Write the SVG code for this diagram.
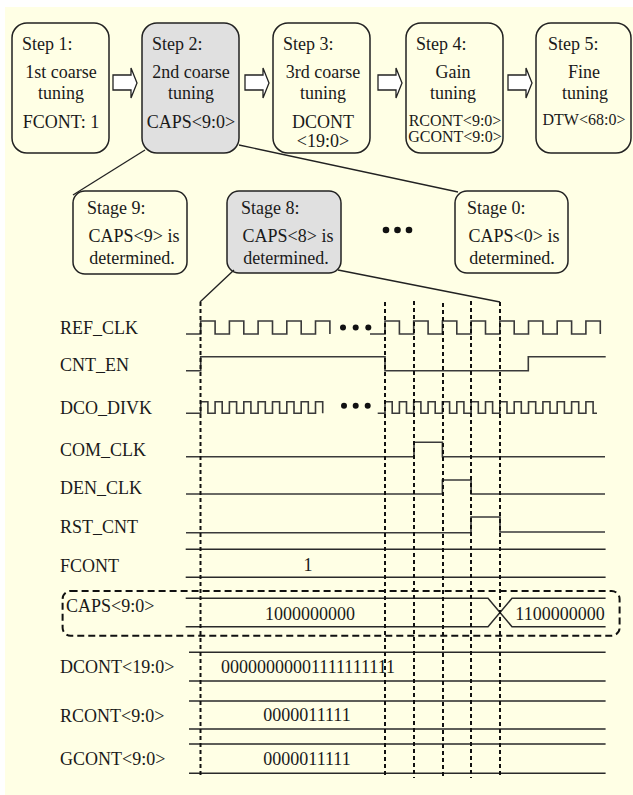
<svg xmlns="http://www.w3.org/2000/svg" width="633" height="795" viewBox="0 0 633 795">
<style>
text{font-family:"Liberation Serif","Times New Roman",serif;font-size:18px;fill:#1a1a1a}
.sm{font-size:16px}
.c{text-anchor:middle}
.box{fill:#FFFFE5;stroke:#222;stroke-width:1.5}
.gbox{fill:#E0E0E0;stroke:#222;stroke-width:1.5}
.arr{fill:#fff;stroke:#222;stroke-width:1.3;stroke-linejoin:miter}
.ln{fill:none;stroke:#222;stroke-width:1.3}
.wv{fill:none;stroke:#3a3a3a;stroke-width:1.6}
.bus{fill:none;stroke:#2a2a2a;stroke-width:1.5}
.vd{fill:none;stroke:#111;stroke-width:2;stroke-dasharray:4 3}
.dot{fill:#111}
</style>
<rect x="5" y="7" width="628" height="788" fill="#FFFFE5"/>

<g id="step1"><rect class="box" x="12" y="23" width="97" height="130" rx="15"/>
<text x="22" y="50">Step 1:</text><text class="c" x="61" y="78">1st coarse</text><text class="c" x="61" y="99">tuning</text><text class="c" x="61" y="128">FCONT: 1</text></g>
<g id="step2"><rect class="gbox" x="142" y="23" width="97" height="130" rx="15"/>
<text x="152" y="50">Step 2:</text><text class="c" x="191" y="78">2nd coarse</text><text class="c" x="191" y="99">tuning</text><text class="c" x="191" y="128">CAPS&lt;9:0&gt;</text></g>
<g id="step3"><rect class="box" x="273" y="23" width="97" height="130" rx="15"/>
<text x="283" y="50">Step 3:</text><text class="c" x="323" y="78">3rd coarse</text><text class="c" x="323" y="99">tuning</text><text class="c" x="323" y="128">DCONT</text><text class="c" x="323" y="147">&lt;19:0&gt;</text></g>
<g id="step4"><rect class="box" x="406" y="23" width="97" height="130" rx="15"/>
<text x="416" y="50">Step 4:</text><text class="c" x="453" y="78">Gain</text><text class="c" x="453" y="99">tuning</text><text class="c sm" x="455" y="125.5">RCONT&lt;9:0&gt;</text><text class="c sm" x="455" y="142">GCONT&lt;9:0&gt;</text></g>
<g id="step5"><rect class="box" x="536" y="23" width="95" height="130" rx="15"/>
<text x="548" y="50">Step 5:</text><text class="c" x="584" y="78">Fine</text><text class="c" x="585" y="99">tuning</text><text class="c sm" x="584" y="125">DTW&lt;68:0&gt;</text></g>

<g id="arrows">
<path class="arr" d="M113,75 H131 V68 L137,83 L131,98 V90 H113 Z"/>
<path class="arr" d="M245,75 H263 V68 L269,83 L263,98 V90 H245 Z"/>
<path class="arr" d="M378,75 H396 V68 L402,83 L396,98 V90 H378 Z"/>
<path class="arr" d="M508,75 H526 V68 L532,83 L526,98 V90 H508 Z"/>
</g>

<g id="stage9"><rect class="box" x="73" y="191" width="114" height="83" rx="12"/>
<text x="87" y="214">Stage 9:</text><text class="c" x="134" y="242">CAPS&lt;9&gt; is</text><text class="c" x="132" y="264">determined.</text></g>
<g id="stage8"><rect class="gbox" x="227" y="191" width="114" height="82" rx="12"/>
<text x="241" y="214">Stage 8:</text><text class="c" x="288" y="242">CAPS&lt;8&gt; is</text><text class="c" x="286" y="264">determined.</text></g>
<g id="stage0"><rect class="box" x="455" y="191" width="113" height="82" rx="12"/>
<text x="467" y="214">Stage 0:</text><text class="c" x="514" y="242">CAPS&lt;0&gt; is</text><text class="c" x="512" y="264">determined.</text></g>
<g id="stage-dots"><circle class="dot" cx="386" cy="230" r="3.3"/><circle class="dot" cx="397.5" cy="230" r="3.3"/><circle class="dot" cx="409" cy="230" r="3.3"/></g>

<g id="connectors">
<line class="ln" x1="145" y1="150" x2="73" y2="195"/>
<line class="ln" x1="239" y1="145" x2="458" y2="192"/>
<line class="ln" x1="234" y1="270" x2="200" y2="302"/>
<line class="ln" x1="338" y1="270" x2="500" y2="302"/>
</g>

<g id="labels">
<text x="60" y="334">REF_CLK</text>
<text x="60" y="371">CNT_EN</text>
<text x="60" y="414">DCO_DIVK</text>
<text x="60" y="456">COM_CLK</text>
<text x="60" y="494">DEN_CLK</text>
<text x="60" y="533">RST_CNT</text>
<text x="60" y="572">FCONT</text>
<text x="66" y="612">CAPS&lt;9:0&gt;</text>
<text x="60" y="673">DCONT&lt;19:0&gt;</text>
<text x="60" y="722">RCONT&lt;9:0&gt;</text>
<text x="60" y="765">GCONT&lt;9:0&gt;</text>
</g>

<g id="waves">
<path class="wv" d="M186,334 H200.7 V321 H215.1 V334 H229.4 V321 H243.8 V334 H258.1 V321 H272.5 V334 H286.8 V321 H301.2 V334 H315.5 V321 H329.9 V334"/>
<path class="wv" d="M370,334 H385 V321 H399.4 V334 H413.7 V321 H428.1 V334 H442.4 V321 H456.8 V334 H471.1 V321 H485.5 V334 H499.8 V321 H514.2 V334 H528.5 V321 H542.9 V334 H557.2 V321 H571.6 V334 H585.9 V321 H600.3 V334"/>
<circle class="dot" cx="343" cy="327.5" r="3"/><circle class="dot" cx="355.7" cy="327.5" r="3"/><circle class="dot" cx="368.3" cy="327.5" r="3"/>
<path class="wv" d="M186,370.7 H200.7 V356.7 H385 V370.7 H528.3 V356.7 H605.7"/>
<path class="wv" d="M186,413.3 H200.7 V401.7 H207.9 V413.3 H215.1 V401.7 H222.2 V413.3 H229.4 V401.7 H236.6 V413.3 H243.8 V401.7 H250.9 V413.3 H258.1 V401.7 H265.3 V413.3 H272.5 V401.7 H279.6 V413.3 H286.8 V401.7 H294 V413.3 H301.2 V401.7 H308.3 V413.3 H315.5 V401.7 H322.7 V413.3"/>
<path class="wv" d="M377.7,413.3 H385 V401.7 H392.2 V413.3 H399.4 V401.7 H406.5 V413.3 H413.7 V401.7 H420.9 V413.3 H428.1 V401.7 H435.2 V413.3 H442.4 V401.7 H449.6 V413.3 H456.8 V401.7 H463.9 V413.3 H471.1 V401.7 H478.3 V413.3 H485.5 V401.7 H492.6 V413.3 H499.8 V401.7 H507 V413.3 H514.2 V401.7 H521.3 V413.3 H528.5 V401.7 H535.7 V413.3 H542.9 V401.7 H550 V413.3 H557.2 V401.7 H564.4 V413.3 H571.6 V401.7 H578.7 V413.3 H585.9 V401.7 H593.1 V413.3 H597"/>
<circle class="dot" cx="344" cy="405.7" r="3"/><circle class="dot" cx="355.7" cy="405.7" r="3"/><circle class="dot" cx="367.7" cy="405.7" r="3"/>
<path class="wv" d="M186,456.7 H414 V442.3 H442.4 V456.7 H605"/>
<path class="wv" d="M186,494 H442.4 V480 H471.1 V494 H605"/>
<path class="wv" d="M186,532.7 H471 V517 H500 V532 H605"/>
</g>

<g id="buses">
<path class="bus" d="M185.7,549.3 H605.6 M185.7,577.3 H605.6"/>
<text class="c" x="308" y="571">1</text>
<path class="bus" d="M185.7,598.3 H488 L512,626.7 H605.6 M185.7,626.7 H488 L512,598.3 H605.6"/>
<text class="c" x="310" y="620">1000000000</text>
<text class="c" x="560" y="620">1100000000</text>
<path class="bus" d="M189,652.3 H605.6 M189,681 H605.6"/>
<text x="221" y="673.3">00000000001111111111</text>
<path class="bus" d="M189,701 H605.6 M189,729 H605.6"/>
<text class="c" x="307" y="721">0000011111</text>
<path class="bus" d="M189,744 H605.6 M189,773.3 H605.6"/>
<text class="c" x="307" y="765">0000011111</text>
</g>

<g id="caps-highlight"><rect x="62.6" y="591" width="557" height="44.7" rx="8" fill="none" stroke="#111" stroke-width="2" stroke-dasharray="7 4"/></g>

<g id="time-markers">
<line class="vd" x1="200.5" y1="302" x2="200.5" y2="778"/>
<line class="vd" x1="385" y1="302" x2="385" y2="778"/>
<line class="vd" x1="414" y1="301" x2="414" y2="778"/>
<line class="vd" x1="443" y1="303" x2="443" y2="778"/>
<line class="vd" x1="471" y1="301" x2="471" y2="778"/>
<line class="vd" x1="500" y1="302" x2="500" y2="778"/>
</g>
</svg>
